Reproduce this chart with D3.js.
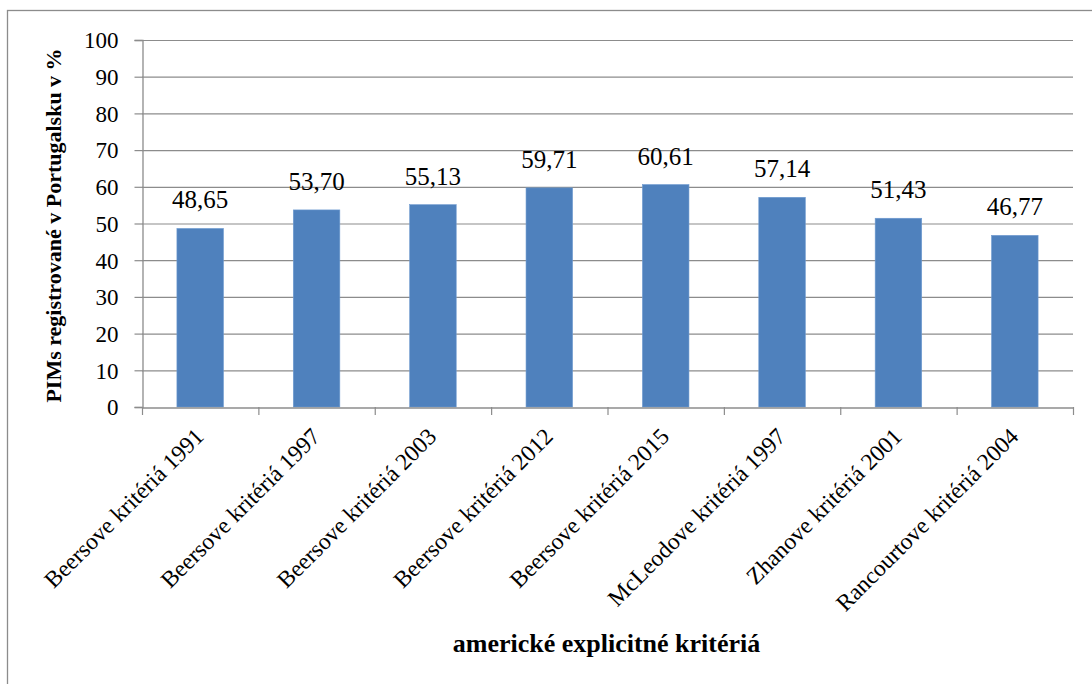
<!DOCTYPE html>
<html><head><meta charset="utf-8">
<script src="https://cdn.jsdelivr.net/npm/d3@7"></script>
<style>body{margin:0;background:#fff}svg{display:block}text{font-family:"Liberation Serif","Times New Roman",serif}</style>
</head><body>
<script>
const categories = ["Beersove kritériá 1991","Beersove kritériá 1997","Beersove kritériá 2003","Beersove kritériá 2012","Beersove kritériá 2015","McLeodove kritériá 1997","Zhanove kritériá 2001","Rancourtove kritériá 2004"];
const values = [48.65, 53.70, 55.13, 59.71, 60.61, 57.14, 51.43, 46.77];
const yTicks = [0,10,20,30,40,50,60,70,80,90,100];
const yTitle = "PIMs registrované v Portugalsku v %";
const xTitle = "americké explicitné kritériá";

const W = 1092, H = 684;
const m = {left:142, right:1073, top:40, bottom:407};
const svg = d3.select("body").append("svg").attr("width",W).attr("height",H);
const font = '"Liberation Serif","Times New Roman",serif';
const grey = "#8c8c8c";

svg.append("rect").attr("x",7.5).attr("y",10.5).attr("width",1100).attr("height",700)
  .attr("fill","#fff").attr("stroke",grey).attr("stroke-width",1.3);

const x = d3.scaleBand().domain(categories).range([m.left,m.right]).paddingInner(0.6).paddingOuter(0.3);
const xb = d3.scaleBand().domain(categories).range([m.left,m.right]);
const y = d3.scaleLinear().domain([0,100]).range([m.bottom,m.top]);

// gridlines
svg.append("g").selectAll("line").data(yTicks.filter(d=>d>0)).join("line")
  .attr("x1",m.left).attr("x2",m.right).attr("y1",d=>y(d)+0.5).attr("y2",d=>y(d)+0.5)
  .attr("stroke",grey).attr("stroke-width",1.2);

// bars
svg.append("g").selectAll("rect").data(values).join("rect")
  .attr("x",(d,i)=>x(categories[i])).attr("width",x.bandwidth())
  .attr("y",d=>y(d)).attr("height",d=>y(0)-y(d))
  .attr("fill","#4F81BD").attr("stroke","#6f9bd0").attr("stroke-width",0.6);

// y axis
const ya = svg.append("g").attr("transform",`translate(${m.left+0.5},0)`)
  .call(d3.axisLeft(y).tickValues(yTicks).tickSize(8).tickPadding(16));
ya.attr("font-family",null);
ya.select(".domain").attr("stroke",grey).attr("stroke-width",1.3);
ya.selectAll(".tick line").attr("stroke",grey).attr("stroke-width",1.2);
ya.selectAll(".tick text").style("font-family",font).style("font-size","23px").attr("fill","#000").attr("dy","0.34em");

// x axis
const xa = svg.append("g").attr("transform",`translate(0,${m.bottom+0.5})`)
  .call(d3.axisBottom(xb).tickSize(0).tickFormat(""));
xa.select(".domain").attr("stroke",grey).attr("stroke-width",1.3);
xa.selectAll(".tick").remove();
const bounds = categories.map(c=>xb(c)).concat([m.right]);
svg.append("g").selectAll("line").data(bounds).join("line")
  .attr("x1",d=>d+0.5).attr("x2",d=>d+0.5).attr("y1",m.bottom).attr("y2",m.bottom+8)
  .attr("stroke",grey).attr("stroke-width",1.2);

// category labels
svg.append("g").selectAll("text").data(categories).join("text")
  .attr("transform",d=>`translate(${xb(d)+xb.bandwidth()/2+5},${m.bottom+31}) rotate(-45)`)
  .attr("text-anchor","end").style("font-family",font).style("font-size","23.5px").attr("fill","#000")
  .text(d=>d);

// data labels
svg.append("g").selectAll("text").data(values).join("text")
  .attr("x",(d,i)=>x(categories[i])+x.bandwidth()/2).attr("y",d=>y(d)-20)
  .attr("text-anchor","middle").style("font-family",font).style("font-size","25px").attr("fill","#000")
  .text(d=>d.toFixed(2).replace(".",","));

// titles
svg.append("text").attr("transform",`translate(61,${(m.top+m.bottom)/2+2}) rotate(-90)`)
  .attr("text-anchor","middle").style("font-family",font).style("font-weight","bold").style("font-size","22px")
  .text(yTitle);
svg.append("text").attr("x",(m.left+m.right)/2-1).attr("y",652)
  .attr("text-anchor","middle").style("font-family",font).style("font-weight","bold").style("font-size","26px")
  .text(xTitle);
</script>
</body></html>
